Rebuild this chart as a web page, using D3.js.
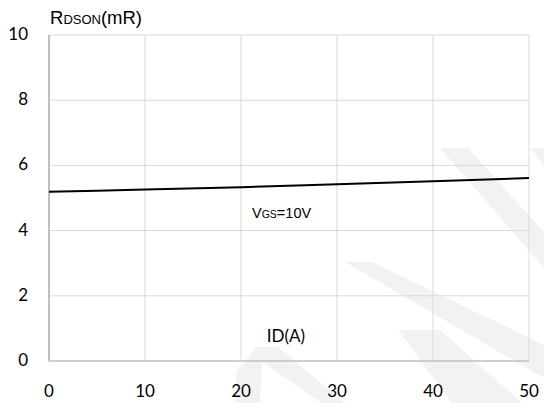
<!DOCTYPE html>
<html lang="en">
  <head>
    <meta charset="utf-8">
    <title>RDSON vs ID</title>
    <script src="https://cdnjs.cloudflare.com/ajax/libs/d3/7.8.5/d3.min.js"></script>
    <style>
      body { margin: 0; background: #fff; }
      .tick-label { font-family: Lato, "Open Sans", sans-serif; font-size: 17px; fill: #000; }
      .arial { font-family: "Liberation Sans", Arial, sans-serif; fill: #000; }
    </style>
  </head>
  <body>
    <script>
      // current (A) and on-resistance (mR)
      const idValues = [0, 10, 20, 30, 40, 50];
      const rdsonValues = [5.19, 5.26, 5.33, 5.42, 5.51, 5.61];
      const xTicks = [0, 10, 20, 30, 40, 50];
      const yTicks = [0, 2, 4, 6, 8, 10];

      const w = 544, h = 403;
      const plotLeft = 49, plotRight = 529, plotTop = 35, plotBottom = 361;

      const x = d3.scaleLinear().domain([0, 50]).range([plotLeft, plotRight]);
      const y = d3.scaleLinear().domain([0, 10]).range([plotBottom, plotTop]);

      const svg = d3.select("body").append("svg")
        .attr("width", w)
        .attr("height", h);

      // faint watermark strokes in the background
      const wm = svg.append("g").attr("fill", "#f2f2f2");
      wm.append("polygon").attr("points", "440,148 468,148 544,232 544,268");
      wm.append("polygon").attr("points", "530,148 544,148 544,165");
      wm.append("polygon").attr("points", "345,262 372,262 544,345 544,378");
      wm.append("polygon").attr("points", "236,372 256,347 278,347 345,403 322,403 262,362 260,403 236,403");
      wm.append("polygon").attr("points", "398,330 440,330 522,403 452,403");

      // grid
      svg.append("g").selectAll("line")
        .data(yTicks.filter(d => d > 0))
        .join("line")
        .attr("x1", plotLeft).attr("x2", plotRight)
        .attr("y1", d => y(d)).attr("y2", d => y(d))
        .attr("stroke", "#d9d9d9").attr("stroke-width", 1);

      svg.append("g").selectAll("line")
        .data(xTicks.filter(d => d > 0))
        .join("line")
        .attr("x1", d => x(d)).attr("x2", d => x(d))
        .attr("y1", plotTop).attr("y2", plotBottom)
        .attr("stroke", "#d9d9d9").attr("stroke-width", 1);

      // axes lines
      svg.append("line")
        .attr("x1", plotLeft).attr("x2", plotRight)
        .attr("y1", plotBottom).attr("y2", plotBottom)
        .attr("stroke", "#bfbfbf").attr("stroke-width", 1.3);
      svg.append("line")
        .attr("x1", plotLeft).attr("x2", plotLeft)
        .attr("y1", plotTop).attr("y2", plotBottom)
        .attr("stroke", "#bfbfbf").attr("stroke-width", 2);

      // tick labels
      svg.append("g").selectAll("text")
        .data(yTicks)
        .join("text")
        .attr("class", "tick-label")
        .attr("x", 28)
        .attr("y", d => y(d) + 5)
        .attr("text-anchor", "end")
        .text(d => d);

      svg.append("g").selectAll("text")
        .data(xTicks)
        .join("text")
        .attr("class", "tick-label")
        .attr("x", d => x(d))
        .attr("y", 397)
        .attr("text-anchor", "middle")
        .text(d => d);

      // the curve
      const line = d3.line()
        .x((d, i) => x(idValues[i]))
        .y(d => y(d))
        .curve(d3.curveMonotoneX);

      svg.append("path")
        .datum(rdsonValues)
        .attr("d", line)
        .attr("fill", "none")
        .attr("stroke", "#000")
        .attr("stroke-width", 2);

      // labels
      const yLabel = svg.append("text").attr("class", "arial").attr("x", 50).attr("y", 24);
      yLabel.append("tspan").attr("font-size", "18.5px").text("R");
      yLabel.append("tspan").attr("font-size", "13px").text("DSON");
      yLabel.append("tspan").attr("font-size", "18.5px").text("(mR)");

      const vgs = svg.append("text").attr("class", "arial").attr("x", 252).attr("y", 218);
      vgs.append("tspan").attr("font-size", "14.5px").text("V");
      vgs.append("tspan").attr("font-size", "10.5px").text("GS");
      vgs.append("tspan").attr("font-size", "14.5px").text("=10V");

      svg.append("text")
        .attr("class", "tick-label")
        .attr("x", 286)
        .attr("y", 342)
        .attr("text-anchor", "middle")
        .text("ID(A)");
    </script>
  </body>
</html>
